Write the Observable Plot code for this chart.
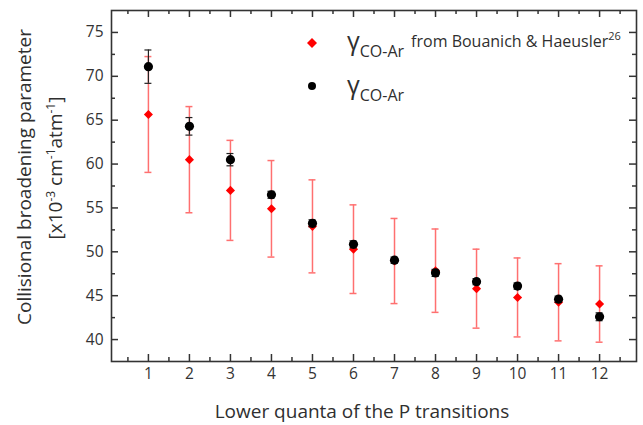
<!DOCTYPE html>
<html>
<head>
<meta charset="utf-8">
<script src="https://cdn.jsdelivr.net/npm/d3@7"></script>
<script src="https://cdn.jsdelivr.net/npm/@observablehq/plot@0.6"></script>
<style>
  html, body { margin: 0; padding: 0; background: #fff; }
  #wrap { position: relative; width: 643px; height: 425px; font-family: "Open Sans", sans-serif; color: #2f2f2f; }
  #wrap svg { position: absolute; left: 0; top: 0; }
  .abs { position: absolute; white-space: nowrap; }
  .ytitle { transform: translate(-50%, -50%) rotate(-90deg); font-size: 19px; }
  .xtitle { transform: translate(-50%, -50%); font-size: 19px; }
  .gam { font-size: 25px; font-family: "Open Sans", sans-serif; }
  .sub { font-size: 16px; position: relative; top: 7px; }
  .from { font-size: 16px; margin-left: 7px; position: relative; top: -3px; }
  .sup26 { font-size: 11px; position: relative; top: -7px; }
  .lab sup { font-size: 12px; }
</style>
</head>
<body>
<div id="wrap"></div>
<script>
// ---- data ----
const transitions = [1, 2, 3, 4, 5, 6, 7, 8, 9, 10, 11, 12];
const thisWork = [71.1, 64.3, 60.5, 56.5, 53.25, 50.85, 49.05, 47.6, 46.6, 46.1, 44.6, 42.6];
const thisWorkErr = [1.9, 1.0, 0.7, 0.4, 0.4, 0.4, 0.35, 0.4, 0.35, 0.35, 0.35, 0.45];
const bouanich = [65.65, 60.5, 57.0, 54.9, 52.9, 50.3, 48.95, 47.85, 45.8, 44.8, 44.25, 44.05];
const bouanichErr = [6.6, 6.05, 5.7, 5.5, 5.3, 5.05, 4.85, 4.75, 4.5, 4.5, 4.4, 4.35];
const xMajorTicks = [1, 2, 3, 4, 5, 6, 7, 8, 9, 10, 11, 12];
const xMinorTicks = [0.5, 1.5, 2.5, 3.5, 4.5, 5.5, 6.5, 7.5, 8.5, 9.5, 10.5, 11.5, 12.5];
const yMajorTicks = [40, 45, 50, 55, 60, 65, 70, 75];
const yMinorTicks = [42.5, 47.5, 52.5, 57.5, 62.5, 67.5, 72.5];

const black = transitions.map((x, i) => ({x, y: thisWork[i], lo: thisWork[i] - thisWorkErr[i], hi: thisWork[i] + thisWorkErr[i]}));
const red = transitions.map((x, i) => ({x, y: bouanich[i], lo: bouanich[i] - bouanichErr[i], hi: bouanich[i] + bouanichErr[i]}));

const W = 643, H = 425, mL = 111, mR = 7, mT = 10, mB = 64;
const pw = W - mL - mR, ph = H - mT - mB;
const ink = "#333";
const errRed = "rgb(255,112,112)";
const capHalf = 0.085;

const chart = Plot.plot({
  width: W, height: H,
  marginLeft: mL, marginRight: mR, marginTop: mT, marginBottom: mB,
  style: {fontFamily: "Open Sans, sans-serif", background: "transparent", color: ink},
  x: {domain: [0.1, 12.9], label: null},
  y: {domain: [37.5, 77.5], label: null},
  marks: [
    Plot.axisX(xMajorTicks, {tickSize: 0, tickPadding: 6, fontSize: 15.5, label: null, fill: ink}),
    Plot.axisY(yMajorTicks, {tickSize: 0, tickPadding: 8, fontSize: 15.5, label: null, fill: ink}),
    Plot.tickX(xMajorTicks, {x: d => d, insetTop: ph - 7, stroke: ink, strokeWidth: 1.5}),
    Plot.tickX(xMajorTicks, {x: d => d, insetBottom: ph - 7, stroke: ink, strokeWidth: 1.5}),
    Plot.tickX(xMinorTicks, {x: d => d, insetTop: ph - 4, stroke: ink, strokeWidth: 1.5}),
    Plot.tickX(xMinorTicks, {x: d => d, insetBottom: ph - 4, stroke: ink, strokeWidth: 1.5}),
    Plot.tickY(yMajorTicks, {y: d => d, insetRight: pw - 7, stroke: ink, strokeWidth: 1.5}),
    Plot.tickY(yMajorTicks, {y: d => d, insetLeft: pw - 7, stroke: ink, strokeWidth: 1.5}),
    Plot.tickY(yMinorTicks, {y: d => d, insetRight: pw - 4, stroke: ink, strokeWidth: 1.5}),
    Plot.tickY(yMinorTicks, {y: d => d, insetLeft: pw - 4, stroke: ink, strokeWidth: 1.5}),
    Plot.frame({stroke: ink, strokeWidth: 1.6}),
    Plot.ruleX(red, {x: "x", y1: "lo", y2: "hi", stroke: errRed, strokeWidth: 1.5}),
    Plot.ruleY(red, {y: "lo", x1: d => d.x - capHalf, x2: d => d.x + capHalf, stroke: errRed, strokeWidth: 1.5}),
    Plot.ruleY(red, {y: "hi", x1: d => d.x - capHalf, x2: d => d.x + capHalf, stroke: errRed, strokeWidth: 1.5}),
    Plot.dot(red, {x: "x", y: "y", symbol: "diamond2", r: 4.1, fill: "#ff0000", stroke: "none"}),
    Plot.ruleX(black, {x: "x", y1: "lo", y2: "hi", stroke: "#222", strokeWidth: 1.2}),
    Plot.ruleY(black, {y: "lo", x1: d => d.x - capHalf, x2: d => d.x + capHalf, stroke: "#222", strokeWidth: 1.2}),
    Plot.ruleY(black, {y: "hi", x1: d => d.x - capHalf, x2: d => d.x + capHalf, stroke: "#222", strokeWidth: 1.2}),
    Plot.dot(black, {x: "x", y: "y", r: 4.6, fill: "#000", stroke: "none"})
  ]
});

const wrap = document.getElementById("wrap");
wrap.appendChild(chart);

function add(html, cls, left, top) {
  const d = document.createElement("div");
  d.className = "abs " + cls;
  d.style.left = left + "px";
  d.style.top = top + "px";
  d.innerHTML = html;
  wrap.appendChild(d);
  return d;
}
add("Collisional broadening parameter", "ytitle", 24, 177);
add("[x10<sup>-3</sup> cm<sup>-1</sup>atm<sup>-1</sup>]", "ytitle lab", 55, 168);
add("Lower quanta of the P transitions", "xtitle", 362, 411);

const leg = document.createElementNS("http://www.w3.org/2000/svg", "svg");
leg.setAttribute("width", 20); leg.setAttribute("height", 60);
leg.style.position = "absolute"; leg.style.left = "302px"; leg.style.top = "32px";
leg.innerHTML = `<path d="M10,6 L15,11 L10,16 L5,11 Z" fill="#ff0000"/><circle cx="10" cy="54" r="4" fill="#000"/>`;
wrap.appendChild(leg);

add('<span class="gam">γ</span><span class="sub">CO-Ar</span><span class="from">from Bouanich &amp; Haeusler<span class="sup26">26</span></span>', "", 347, 23);
add('<span class="gam">γ</span><span class="sub">CO-Ar</span>', "", 347, 67);
</script>
</body>
</html>
